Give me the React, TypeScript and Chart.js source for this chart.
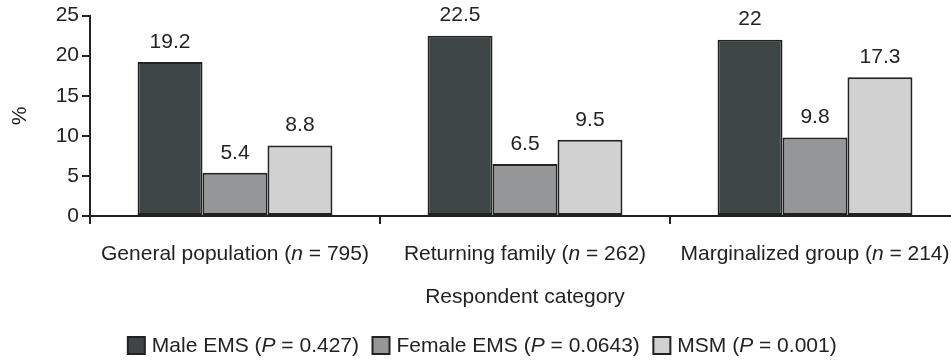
import { useEffect, useRef } from "react";
import { Chart, registerables } from "chart.js";

Chart.register(...registerables);

const categories = [
  "General population (n = 795)",
  "Returning family (n = 262)",
  "Marginalized group (n = 214)",
];
const seriesNames = ["Male EMS (P = 0.427)", "Female EMS (P = 0.0643)", "MSM (P = 0.001)"];
const maleEMS = [19.2, 22.5, 22];
const femaleEMS = [5.4, 6.5, 9.8];
const msm = [8.8, 9.5, 17.3];
const yTickValues = [0, 5, 10, 15, 20, 25];
const seriesColors = ["#3e4547", "#959698", "#d1d1d1"];

const FONT_FAMILY = '"Liberation Sans", Arial, Helvetica, sans-serif';
const FONT_SIZE = 21;
const TEXT = "#222222";
const LEGEND_BOX = 17;

// Draw text where the statistic symbol (n or P before " =") is italic.
function drawRich(ctx: CanvasRenderingContext2D, text: string, x: number, y: number, align: "left" | "center") {
  const parts = text.split(/(\b[nP](?= =))/).filter((p) => p.length > 0);
  const fonts = parts.map((p) =>
    /^[nP]$/.test(p) ? `italic ${FONT_SIZE}px ${FONT_FAMILY}` : `${FONT_SIZE}px ${FONT_FAMILY}`
  );
  const widths = parts.map((p, i) => {
    ctx.font = fonts[i];
    return ctx.measureText(p).width;
  });
  const total = widths.reduce((a, b) => a + b, 0);
  let cx = align === "center" ? x - total / 2 : x;
  ctx.textAlign = "left";
  ctx.textBaseline = "middle";
  parts.forEach((p, i) => {
    ctx.font = fonts[i];
    ctx.fillText(p, cx, y);
    cx += widths[i];
  });
}

const textPlugin = {
  id: "textPlugin",
  afterDatasetsDraw(chart: any) {
    const ctx = chart.ctx;
    ctx.save();
    ctx.font = `${FONT_SIZE}px ${FONT_FAMILY}`;
    ctx.fillStyle = TEXT;
    ctx.textAlign = "center";
    ctx.textBaseline = "middle";
    chart.data.datasets.forEach((ds: any, i: number) => {
      const meta = chart.getDatasetMeta(i);
      meta.data.forEach((bar: any, j: number) => {
        ctx.fillText(String(ds.data[j]), bar.x, bar.y - 20);
      });
    });
    ctx.restore();
  },
  afterDraw(chart: any) {
    const ctx = chart.ctx;
    ctx.save();
    ctx.fillStyle = TEXT;
    // category labels
    const xs = chart.scales.x;
    chart.data.labels.forEach((lab: string, i: number) => {
      drawRich(ctx, lab, xs.getPixelForTick(i), xs.top + 38, "center");
    });
    // legend texts
    const lg = chart.legend;
    if (lg && lg.legendHitBoxes) {
      lg.legendHitBoxes.forEach((hb: any, i: number) => {
        const item = lg.legendItems[i];
        drawRich(ctx, item.text, hb.left + LEGEND_BOX + 7, hb.top + hb.height / 2 + 1, "left");
      });
    }
    ctx.restore();
  },
};

export default function App() {
  const ref = useRef<HTMLCanvasElement | null>(null);
  useEffect(() => {
    if (!ref.current) return;
    const font = { family: FONT_FAMILY, size: FONT_SIZE };
    const chart = new Chart(ref.current, {
      type: "bar",
      data: {
        labels: categories,
        datasets: [maleEMS, femaleEMS, msm].map((d, i) => ({
          label: seriesNames[i],
          data: d,
          backgroundColor: seriesColors[i],
          borderColor: "#222222",
          borderWidth: 2,
          borderSkipped: false,
          barPercentage: 1,
          categoryPercentage: 0.672,
        })),
      },
      options: {
        animation: false,
        responsive: false,
        layout: { padding: { left: 8, right: 40, top: 15, bottom: -6 } },
        scales: {
          x: {
            grid: {
              display: true,
              drawOnChartArea: false,
              drawTicks: true,
              tickLength: 8,
              color: "#222222",
              lineWidth: 2,
              offset: true,
            },
            border: { display: true, color: "#222222", width: 2 },
            ticks: { color: "rgba(0,0,0,0)", font, padding: 20, maxRotation: 0, autoSkip: false },
            title: {
              display: true,
              text: "Respondent category",
              color: TEXT,
              font,
              padding: { top: 0, bottom: 15 },
            },
            afterFit: (s: any) => {
              s.height = 109;
            },
          },
          y: {
            min: 0,
            max: 25,
            afterBuildTicks: (s: any) => {
              s.ticks = yTickValues.map((v) => ({ value: v }));
            },
            ticks: { color: TEXT, font, padding: 3 },
            grid: {
              drawOnChartArea: false,
              drawTicks: true,
              tickLength: 8,
              color: "#222222",
              lineWidth: 2,
            },
            border: { display: true, color: "#222222", width: 2 },
            title: { display: true, text: "%", color: TEXT, font, padding: 0 },
            afterFit: (s: any) => {
              s.width = 82;
            },
          },
        },
        plugins: {
          legend: {
            position: "bottom",
            labels: {
              boxWidth: LEGEND_BOX,
              boxHeight: LEGEND_BOX,
              padding: 10,
              color: "rgba(0,0,0,0)",
              font,
            },
          },
          tooltip: { enabled: false },
        },
      },
      plugins: [textPlugin],
    });
    return () => chart.destroy();
  }, []);
  return (
    <div
      style={{
        position: "fixed",
        left: 0,
        top: 0,
        width: 951,
        height: 360,
        overflow: "hidden",
        background: "#fff",
      }}
    >
      <canvas ref={ref} width={1000} height={360} style={{ display: "block" }} />
    </div>
  );
}
